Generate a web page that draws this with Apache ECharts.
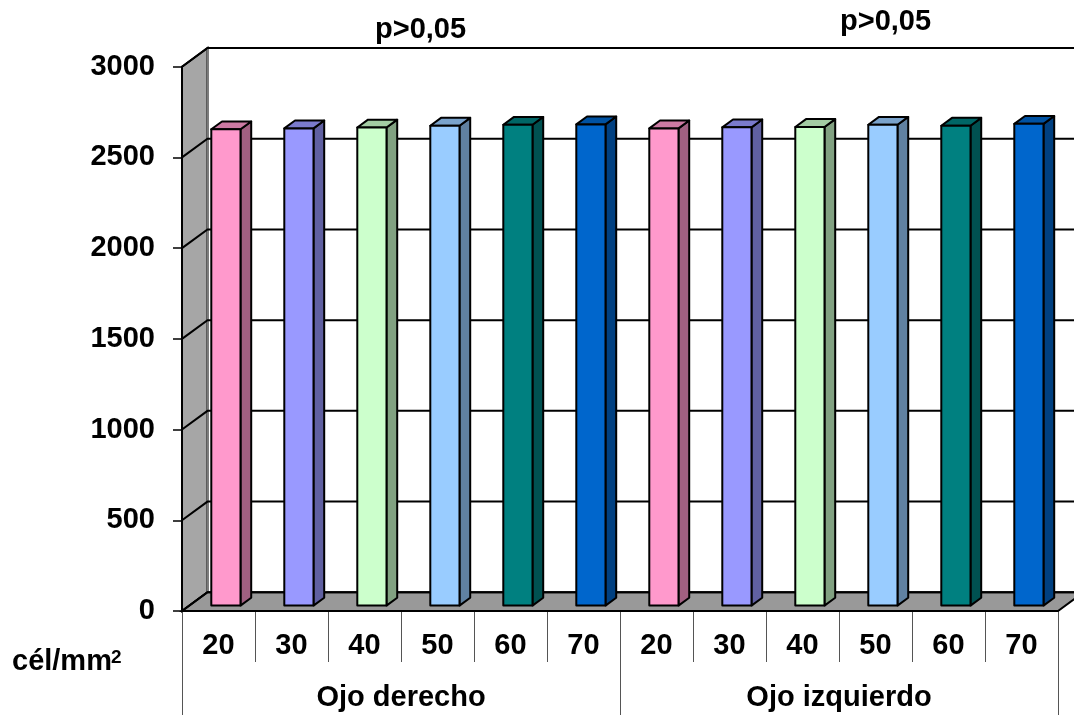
<!DOCTYPE html>
<html>
<head>
<meta charset="utf-8">
<script src="https://cdn.jsdelivr.net/npm/echarts@6/dist/echarts.min.js"></script>
<style>
  html, body { margin: 0; padding: 0; background: #ffffff; }
  #chart { width: 1074px; height: 719px; }
</style>
</head>
<body>
<div id="chart"></div>
<script>
// Endothelial cell density by age group, right and left eye
const ageGroups = ['20', '30', '40', '50', '60', '70'];
const eyes = ['Ojo derecho', 'Ojo izquierdo'];
const densityRight = [2625, 2630, 2635, 2645, 2650, 2652];
const densityLeft = [2630, 2636, 2638, 2650, 2645, 2655];
const yTicks = [0, 500, 1000, 1500, 2000, 2500, 3000];
const unitLabel = 'cél/mm';
const unitPower = '2';
const pNotes = ['p>0,05', 'p>0,05'];

const barColors = ['#FF99CC', '#9999FF', '#CCFFCC', '#99CCFF', '#008080', '#0066CC'];
const FONT = '"Liberation Sans", Arial, sans-serif';
const TEXT_SIZE = 29;

// Pseudo-3D depth vector (pixels) and the bar slab inside that depth
const DEPTH = [25.5, -18.7];
const BAR_FRONT = 0.29;
const BAR_BACK = 0.71;
const BAR_WIDTH = 0.40;

const categories = ageGroups.concat(ageGroups);
const barData = densityRight.concat(densityLeft).map((v, i) => [i, v]);
const gridData = yTicks.map(v => [0, v]);

function shade(hex, f) {
  const n = parseInt(hex.slice(1), 16);
  const r = Math.round(((n >> 16) & 255) * f);
  const g = Math.round(((n >> 8) & 255) * f);
  const b = Math.round((n & 255) * f);
  return 'rgb(' + r + ',' + g + ',' + b + ')';
}

// Back wall, left wall and floor of the 3D box
function renderFrame(params, api) {
  const cs = params.coordSys;
  const L = cs.x, R = cs.x + cs.width, T = cs.y, B = cs.y + cs.height;
  const dx = DEPTH[0], dy = DEPTH[1];
  return {
    type: 'group',
    children: [
      { type: 'polygon', shape: { points: [[L + dx, T + dy], [R + dx + 40, T + dy], [R + dx + 40, B + dy], [L + dx, B + dy]] },
        style: { fill: '#ffffff' } },
      { type: 'polygon', shape: { points: [[L, T], [L + dx, T + dy], [L + dx, B + dy], [L, B]] },
        style: { fill: '#a6a6a6', stroke: '#000', lineWidth: 2 } },
      { type: 'line', shape: { x1: L + dx, y1: T + dy, x2: L + dx, y2: B + dy },
        style: { stroke: '#7a7a7a', lineWidth: 1.5 } },
      { type: 'polygon', shape: { points: [[L, B], [R, B], [R + dx, B + dy], [L + dx, B + dy]] },
        style: { fill: '#999999', stroke: '#000', lineWidth: 2 } },
      { type: 'line', shape: { x1: L + dx, y1: T + dy, x2: R + dx + 40, y2: T + dy },
        style: { stroke: '#000', lineWidth: 2 } }
    ]
  };
}

// Gridlines drawn on the left wall and the back wall
function renderGridline(params, api) {
  const cs = params.coordSys;
  const L = cs.x, R = cs.x + cs.width;
  const y = api.coord([0, api.value(1)])[1];
  const dx = DEPTH[0], dy = DEPTH[1];
  return {
    type: 'polyline',
    shape: { points: [[L, y], [L + dx, y + dy], [R + dx + 40, y + dy]] },
    style: { stroke: '#000', lineWidth: 2, fill: null }
  };
}

// 3D column: side face, top face and front face
function renderBar(params, api) {
  const idx = api.value(0);
  const v = api.value(1);
  const base = api.coord([idx, 0]);
  const top = api.coord([idx, v]);
  const w = api.size([1, 0])[0] * BAR_WIDTH;
  const fx = DEPTH[0] * BAR_FRONT, fy = DEPTH[1] * BAR_FRONT;
  const bx = DEPTH[0] * (BAR_BACK - BAR_FRONT), by = DEPTH[1] * (BAR_BACK - BAR_FRONT);
  const x0 = base[0] - w / 2 + fx, x1 = base[0] + w / 2 + fx;
  const y0 = base[1] + fy, y1 = top[1] + fy;
  const color = barColors[params.dataIndex % barColors.length];
  const edge = { stroke: '#000', lineWidth: 2, lineJoin: 'round' };
  return {
    type: 'group',
    children: [
      { type: 'polygon', shape: { points: [[x1, y0], [x1 + bx, y0 + by], [x1 + bx, y1 + by], [x1, y1]] },
        style: Object.assign({ fill: shade(color, 0.63) }, edge) },
      { type: 'polygon', shape: { points: [[x0, y1], [x1, y1], [x1 + bx, y1 + by], [x0 + bx, y1 + by]] },
        style: Object.assign({ fill: shade(color, 0.8) }, edge) },
      { type: 'rect', shape: { x: x0, y: y1, width: w, height: y0 - y1 },
        style: Object.assign({ fill: color }, edge) }
    ]
  };
}

const labelStyle = { color: '#000', fontFamily: FONT, fontWeight: 'bold', fontSize: TEXT_SIZE };

const chart = echarts.init(document.getElementById('chart'), null, { renderer: 'canvas' });
chart.setOption({
  backgroundColor: '#ffffff',
  animation: false,
  grid: { left: 182, right: 16, top: 66.7, bottom: 108, containLabel: false },
  xAxis: [
    {
      type: 'category',
      data: categories,
      position: 'bottom',
      boundaryGap: true,
      axisLine: { show: true, lineStyle: { color: '#000', width: 2 } },
      axisTick: { show: true, length: 51, interval: 0, lineStyle: { color: '#555', width: 1 } },
      axisLabel: Object.assign({ margin: 20, interval: 0 }, labelStyle),
      splitLine: { show: false }
    },
    {
      type: 'category',
      data: eyes,
      position: 'bottom',
      offset: 51,
      boundaryGap: true,
      axisLine: { show: false },
      axisTick: { show: true, length: 53, interval: 0, lineStyle: { color: '#555', width: 1 } },
      axisLabel: Object.assign({ margin: 21, interval: 0 }, labelStyle),
      splitLine: { show: false }
    }
  ],
  yAxis: {
    type: 'value',
    min: 0,
    max: 3000,
    interval: 500,
    axisLine: { show: true, lineStyle: { color: '#000', width: 2 } },
    axisTick: { show: true, length: 9, lineStyle: { color: '#000', width: 1.5 } },
    axisLabel: Object.assign({ margin: 27, formatter: v => String(v) }, labelStyle),
    splitLine: { show: false }
  },
  series: [
    { type: 'custom', name: 'frame', data: [[0, 0]], renderItem: renderFrame, z: 1, silent: true },
    { type: 'custom', name: 'grid', data: gridData, renderItem: renderGridline, z: 2, silent: true },
    { type: 'custom', name: 'density', data: barData, renderItem: renderBar, z: 3 }
  ],
  graphic: [
    { type: 'text', left: 375, top: 15, style: { text: pNotes[0], fill: '#000', font: 'bold ' + TEXT_SIZE + 'px ' + FONT } },
    { type: 'text', left: 840, top: 7, style: { text: pNotes[1], fill: '#000', font: 'bold ' + TEXT_SIZE + 'px ' + FONT } },
    { type: 'text', left: 12, top: 647, style: { text: unitLabel, fill: '#000', font: 'bold ' + TEXT_SIZE + 'px ' + FONT } },
    { type: 'text', left: 111, top: 648, style: { text: unitPower, fill: '#000', font: 'bold 19px ' + FONT } }
  ]
});
</script>
</body>
</html>
